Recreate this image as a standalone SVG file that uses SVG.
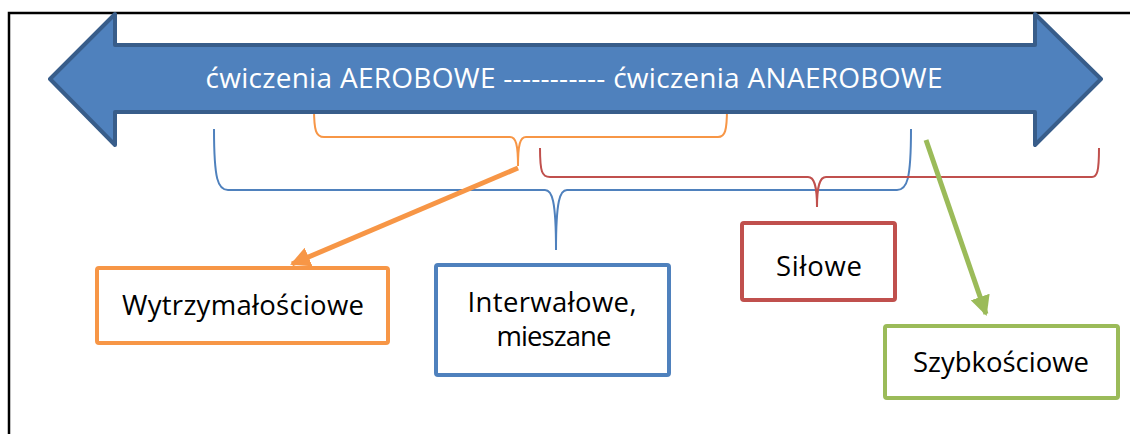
<svg xmlns="http://www.w3.org/2000/svg" width="1130" height="434" viewBox="0 0 1130 434">
<style>
.lbl{font-family:"Open Sans","Liberation Sans",sans-serif;font-size:27.5px;fill:#000;text-anchor:middle}
.box{fill:#fff;stroke-width:4}
.br{fill:none;stroke-width:2}
</style>
<defs>
<marker id="ho" viewBox="0 0 10 10" refX="9" refY="5" markerWidth="4" markerHeight="4" orient="auto" markerUnits="strokeWidth"><path d="M0,0 L10,5 L0,10 Z" fill="#F79646"/></marker>
<marker id="hg" viewBox="0 0 10 10" refX="9" refY="5" markerWidth="4" markerHeight="4" orient="auto" markerUnits="strokeWidth"><path d="M0,0 L10,5 L0,10 Z" fill="#9BBB59"/></marker>
</defs>
<rect x="0" y="0" width="1130" height="434" fill="#fff"/>
<rect x="9" y="13" width="1140" height="440" fill="none" stroke="#000" stroke-width="2.5"/>
<g id="brackets">
<path class="br" stroke="#F79646" d="M314,108 C314,131 316,137 324,137 L510,137 C516,137 518,145 518,166 C518,145 520,137 526,137 L718,137 C725,137 727,131 727,108"/>
</g>
<g id="main-arrow">
<path d="M50,79 L115,14 L115,45 L1035,45 L1035,14 L1101,79 L1035,145 L1035,112 L115,112 L115,145 Z" fill="#4F81BD" stroke="#385D8A" stroke-width="4" stroke-linejoin="round"/>
<text x="574" y="88" font-family="'Open Sans','Liberation Sans',sans-serif" font-size="28" fill="#fff" text-anchor="middle" textLength="737">ćwiczenia AEROBOWE ----------- ćwiczenia ANAEROBOWE</text>
</g>
<g id="connectors">
<path class="br" stroke="#4F81BD" d="M214,129 C214,180 218,190 228,190 L545,190 C552,190 556,200 556,250 C556,200 560,190 567,190 L897,190 C907,190 911,180 911,129"/>
<path class="br" stroke="#C0504D" d="M540,148 C540,172 542,177 550,177 L808,177 C814,177 817,185 817,207 C817,185 820,177 826,177 L1092,177 C1097,177 1099,172 1099,148"/>
<line x1="518" y1="168" x2="292" y2="264" stroke="#F79646" stroke-width="5" marker-end="url(#ho)"/>
<line x1="926" y1="140" x2="986" y2="314" stroke="#9BBB59" stroke-width="5" marker-end="url(#hg)"/>
</g>
<g id="n-wytrz">
<rect class="box" x="97" y="268" width="291" height="75" rx="2" stroke="#F79646"/>
<text class="lbl" x="243" y="315" textLength="242">Wytrzymałościowe</text>
</g>
<g id="n-interw">
<rect class="box" x="436" y="265" width="233" height="110" rx="2" stroke="#4F81BD"/>
<text class="lbl" x="552" y="312" textLength="169">Interwałowe,</text>
<text class="lbl" x="554" y="346" textLength="115">mieszane</text>
</g>
<g id="n-silowe">
<rect class="box" x="742" y="223" width="153" height="77" rx="2" stroke="#C0504D"/>
<text class="lbl" x="819" y="276" textLength="86">Siłowe</text>
</g>
<g id="n-szybk">
<rect class="box" x="885" y="326" width="233" height="72" rx="2" stroke="#9BBB59"/>
<text class="lbl" x="1001" y="372" textLength="176">Szybkościowe</text>
</g>
</svg>
